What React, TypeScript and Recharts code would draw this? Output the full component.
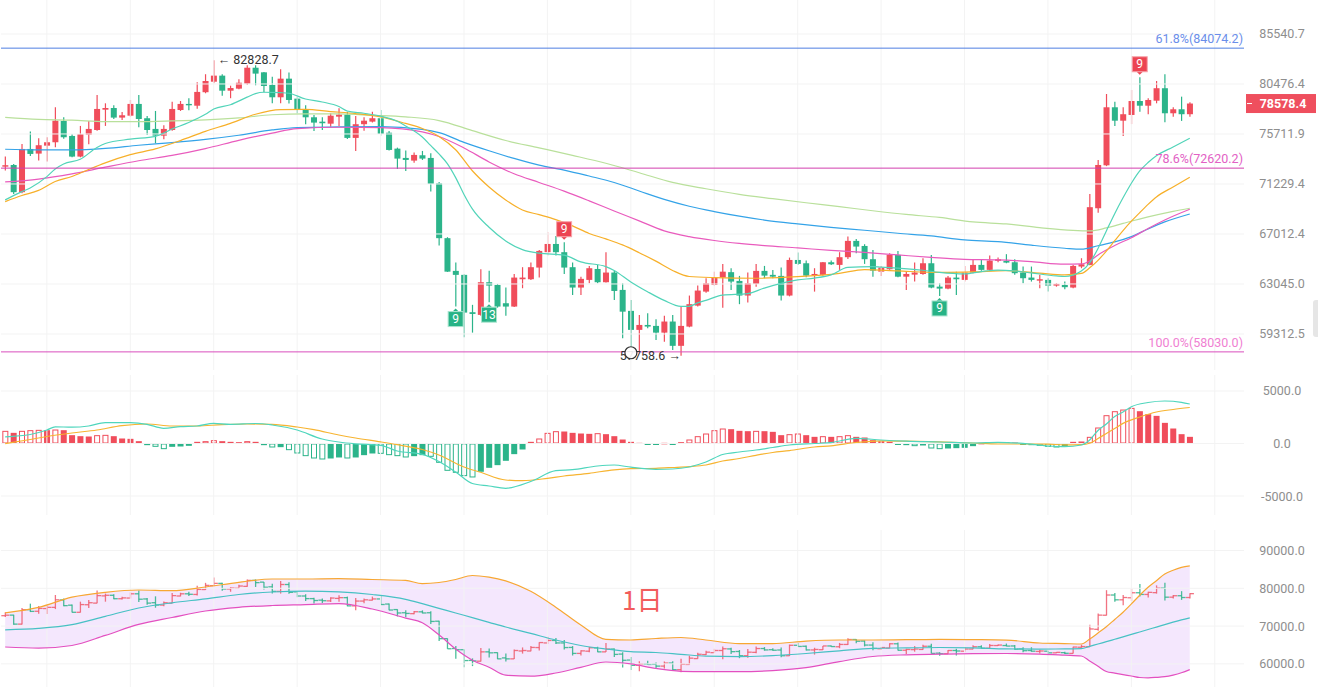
import { ComposedChart, Bar, Line, Area, XAxis, YAxis, ReferenceLine, ReferenceDot } from "recharts";

// daily candles
const opens = [
  72750, 72900, 70520, 74340, 73920, 74640, 74950, 76920, 75530, 73650,
  75650, 76080, 77990, 78150, 77240, 77420, 78540, 77180, 76180, 75560,
  76080, 77960, 78540, 78370, 79670, 80700, 81300, 79820, 80020, 80510,
  82090, 81630, 80380, 79180, 81000, 79050, 77960, 77270, 76860, 76670,
  77330, 77520, 75350, 76620, 76860, 77180, 75830, 74370, 73530, 73290,
  73770, 73530, 71290, 66670, 64060, 63750, 60910, 60710, 63180, 62970,
  61580, 61330, 63410, 63410, 64320, 65540, 66200, 65540, 64350, 62770,
  63360, 64210, 63180, 63930, 62590, 61010, 59610, 59970, 59900, 59410,
  60220, 58460, 59850, 61400, 62460, 62970, 63540, 63960, 63280, 62160,
  63050, 64060, 63750, 63670, 62160, 64920, 64660, 63690, 63750, 64740,
  64530, 65140, 66450, 66040, 64980, 64000, 64190, 65320, 63610, 63770,
  63820, 64660, 62840, 62690, 63540, 63360, 63930, 64530, 64140, 64850,
  64850, 64740, 63930, 63540, 63300, 63360, 62920, 62970, 62770, 64400,
  64530, 69150, 72870, 78220, 76950, 77490, 78820, 78370, 78850, 80060,
  77650, 78030, 77560,
];
const highs = [
  73650, 72990, 74800, 75930, 75320, 75410, 78220, 77270, 75690, 76460,
  76920, 79400, 78600, 78410, 77770, 78920, 79400, 77400, 77870, 76520,
  78760, 78820, 79090, 80640, 81440, 82828.7, 81440, 80310, 80940, 82340,
  82340, 81660, 81200, 81930, 81600, 79180, 78410, 77490, 77270, 77650,
  78130, 77800, 77400, 77270, 77800, 77960, 75990, 74460, 74190, 74010,
  74160, 73950, 71410, 66750, 64710, 63800, 61460, 64190, 64080, 63050,
  62770, 63820, 64350, 64710, 65720, 67160, 66850, 66340, 64710, 63610,
  64450, 64530, 65540, 64080, 63100, 61830, 60710, 60840, 60390, 60640,
  60710, 61330, 62160, 62920, 63490, 64000, 64610, 64270, 63670, 63930,
  64610, 64450, 64130, 64320, 65110, 65510, 64870, 64270, 64760, 64870,
  65540, 66800, 66610, 66180, 65720, 64450, 65460, 65640, 64000, 64710,
  65060, 65320, 63100, 63670, 64000, 64450, 64920, 64920, 65270, 65110,
  65380, 64980, 64400, 64400, 63750, 63490, 63100, 63230, 64530, 65060,
  70370, 73350, 79500, 78760, 78220, 79890, 81140, 79090, 80770, 81440,
  78220, 79240, 78690,
];
const lows = [
  72400, 70370, 70430, 73710, 73290, 73200, 74500, 75280, 73590, 73590,
  74770, 76020, 76460, 77110, 77020, 77330, 76340, 75620, 74860, 75230,
  76020, 77870, 77930, 78090, 79570, 80550, 79340, 79090, 79960, 80410,
  80350, 79670, 78600, 78600, 78570, 77650, 76620, 75990, 76080, 76390,
  76460, 75250, 74160, 76020, 76770, 75560, 74190, 72550, 72370, 73110,
  73350, 70570, 66070, 63980, 61330, 59080, 59410, 60640, 61660, 61250,
  60640, 61300, 62720, 63360, 63540, 65270, 65270, 63820, 62210, 62210,
  63100, 63100, 63150, 61830, 59010, 58410, 58050, 59730, 58880, 58760,
  58170, 57758.6, 59800, 61330, 62380, 62920, 61250, 62590, 61510, 61630,
  62840, 63490, 63490, 61780, 62100, 64530, 63570, 62460, 63690, 64530,
  64140, 65000, 65460, 64610, 63610, 63670, 64140, 63570, 62590, 63230,
  63750, 62720, 62130, 62640, 62210, 63230, 63880, 64080, 64080, 64740,
  64660, 63750, 63100, 63230, 62720, 62460, 62840, 62640, 62720, 64270,
  64500, 68780, 72800, 76460, 75530, 76620, 77800, 77560, 78600, 76800,
  77330, 76930, 77330,
];
const closes = [
  72880, 70520, 74340, 73890, 74680, 74950, 76950, 75410, 73650, 75690,
  76180, 78060, 78150, 77240, 77460, 78540, 77110, 76080, 75560, 76180,
  78060, 78540, 78410, 79700, 80770, 81300, 79820, 80080, 80600, 82090,
  81500, 80280, 79180, 81000, 78920, 77960, 77270, 76770, 76710, 77420,
  77520, 75350, 76620, 76950, 77180, 75710, 74250, 73470, 73350, 73800,
  73470, 71230, 66670, 64000, 63750, 60880, 60780, 63180, 62920, 61330,
  61330, 63540, 63540, 64350, 65640, 66200, 65540, 64320, 62770, 63440,
  64270, 63180, 63930, 62510, 60950, 59610, 59970, 59850, 59410, 60220,
  58460, 59900, 61510, 62540, 63100, 63540, 64000, 63230, 62160, 63100,
  64060, 63690, 63610, 62160, 64920, 64610, 63690, 63820, 64740, 64580,
  65140, 66450, 65990, 64980, 64080, 64320, 65320, 63610, 63820, 63930,
  64660, 62770, 62690, 63540, 63410, 63930, 64530, 64140, 64870, 64980,
  64710, 63880, 63490, 63360, 63410, 62920, 63050, 62800, 64450, 64580,
  69240, 72900, 78220, 76950, 77560, 78820, 78370, 78920, 80060, 77650,
  78030, 77560, 78578.4,
];

// moving averages, [candle index, value] read where the line could be traced
const maFast = [
  [0, 69855], [2, 70566], [3, 70886], [5, 71870], [6, 72548], [7, 72993], [9, 73412], [11, 74477],
  [12, 74842], [15, 75235], [18, 75498], [20, 76168], [22, 76775], [24, 77547], [25, 78054], [27, 78460],
  [29, 79191], [30, 79540], [31, 79666], [33, 79627], [34, 79569], [36, 79017], [38, 78729], [40, 78300],
  [41, 77868], [43, 77651], [45, 77377], [47, 76897], [48, 76458], [50, 75438], [51, 74660], [52, 73889],
  [53, 73019], [54, 71786], [55, 70326], [56, 69092], [58, 67567], [60, 66446], [62, 65744], [64, 65458],
  [67, 65306], [69, 64765], [72, 64395], [73, 64096], [75, 63204], [77, 62452], [79, 61793], [81, 61343],
  [82, 61350], [83, 61603], [84, 61800], [86, 62195], [89, 62308], [91, 62727], [95, 63357], [97, 63497],
  [99, 63746], [101, 64332], [104, 64395], [105, 64348], [107, 64269], [110, 64111], [112, 63940],
  [115, 63824], [117, 64010], [119, 64127], [121, 64057], [123, 63902], [126, 63668], [127, 63622],
  [129, 64049], [130, 64690], [131, 65840], [132, 67262], [133, 68694], [134, 70036], [135, 71291],
  [136, 72371], [137, 73121], [138, 73727], [140, 74522], [142, 75318],
];
const maMid = [
  [0, 69711], [2, 70232], [4, 70678], [6, 71441], [8, 71887], [10, 72503], [12, 73091], [15, 73823],
  [18, 74350], [21, 75106], [24, 75955], [27, 76700], [30, 77557], [33, 77992], [36, 78020], [39, 77812],
  [42, 77622], [45, 77311], [48, 76691], [50, 76224], [52, 75484], [54, 74267], [56, 72389], [58, 70972],
  [60, 69855], [62, 69007], [64, 68610], [66, 68195], [68, 67674], [70, 67055], [72, 66609], [74, 66123],
  [76, 65497], [78, 64829], [80, 64096], [82, 63622], [85, 63536], [90, 63489], [95, 63606], [100, 63871],
  [103, 64166], [107, 64057], [112, 63940], [116, 63979], [120, 64081], [124, 63886], [127, 63746],
  [129, 63863], [130, 64301], [131, 64892], [132, 65632], [133, 66462], [134, 67294], [135, 68070],
  [136, 68786], [137, 69482], [138, 70113], [140, 70972], [142, 71819],
];
const maSlow = [
  [0, 71405], [4, 71659], [8, 72115], [12, 72708], [16, 73278], [20, 73754], [24, 74376], [28, 75124],
  [32, 75795], [35, 76214], [40, 76336], [45, 76308], [50, 75900], [52, 75475], [55, 74431], [58, 73171],
  [61, 72123], [64, 71362], [67, 70608], [70, 69779], [73, 68923], [76, 68095], [79, 67270], [82, 66797],
  [85, 66479], [88, 66244], [91, 66067], [95, 65881], [99, 65680], [103, 65521], [107, 65322], [111, 65124],
  [115, 64963], [119, 64923], [123, 64789], [127, 64584], [129, 64608], [130, 64845], [131, 65322],
  [133, 66075], [135, 66707], [137, 67467], [139, 68170], [142, 69066],
];
const maLong = [
  [0, 74313], [4, 74249], [8, 74249], [12, 74386], [16, 74678], [20, 74924], [24, 75216], [28, 75595],
  [32, 76084], [35, 76308], [40, 76365], [45, 76392], [50, 76130], [52, 75835], [55, 74943], [58, 74177],
  [61, 73484], [64, 72886], [67, 72450], [70, 71923], [73, 71362], [76, 70626], [79, 69898], [82, 69320],
  [85, 68873], [88, 68488], [91, 68162], [95, 67839], [99, 67559], [103, 67320], [107, 67070], [111, 66854],
  [115, 66527], [119, 66390], [123, 66100], [127, 65857], [129, 65777], [131, 66059], [133, 66365],
  [135, 66797], [137, 67426], [139, 68005], [142, 68669],
];
const maYear = [
  [0, 77254], [4, 77065], [8, 76999], [12, 76859], [16, 76859], [20, 76925], [24, 77027], [28, 77207],
  [32, 77509], [36, 77585], [40, 77585], [44, 77462], [48, 77311], [52, 76962], [56, 76028], [60, 75115],
  [64, 74440], [68, 73763], [72, 73055], [76, 72213], [80, 71362], [84, 70816], [88, 70335], [92, 69966],
  [96, 69618], [100, 69287], [104, 68940], [108, 68628], [112, 68379], [116, 68005], [120, 67839],
  [124, 67534], [128, 67304], [130, 67262], [132, 67508], [134, 67880], [137, 68420], [140, 68882],
  [142, 69151],
];

// MACD
const macdHist = [
  1205, 1014, 1205, 1268, 1300, 1268, 1331, 1268, 793, 697,
  666, 793, 824, 697, 476, 444, 222, -159, -317, -539,
  -317, -285, -222, 159, 222, 317, 222, 159, 127, 222,
  159, -159, -380, -349, -634, -951, -1205, -1427, -1522, -1427,
  -1331, -1427, -1331, -1110, -951, -983, -1110, -1205, -1331, -1205,
  -1110, -1268, -1839, -2599, -2790, -3107, -3233, -2695, -2314, -2061,
  -1648, -1014, -571, 159, 476, 1014, 1173, 1141, 1014, 951,
  919, 983, 888, 697, 380, 159, 63, -63, -95, 63,
  -95, 127, 380, 697, 951, 1268, 1427, 1363, 1205, 1173,
  1205, 1173, 1110, 793, 888, 951, 793, 634, 697, 634,
  697, 793, 634, 571, 317, 222, 159, -95, -159, -254,
  -190, -476, -539, -476, -444, -412, -254, 63, 95, 127,
  127, 95, -63, -159, -222, -317, -380, -317, 159, 190,
  634, 1522, 2695, 3075, 3233, 3392, 3075, 2790, 2631, 1965,
  1427, 888, 634,
];
const macdDif = [
  [0, 638], [3, 857], [5, 1285], [6, 1590], [8, 1552], [10, 1666], [12, 1980], [15, 1980], [17, 1828],
  [19, 1447], [21, 1599], [23, 1666], [25, 1923], [27, 1828], [30, 1904], [32, 1761], [35, 1285], [38, 428],
  [40, 143], [42, -29], [45, -171], [47, -714], [50, -1028], [52, -1714], [54, -2713], [56, -3808],
  [58, -4046], [60, -4265], [63, -3618], [66, -2589], [68, -2485], [71, -2142], [73, -2047], [75, -2256],
  [78, -2456], [80, -2428], [82, -2237], [84, -1761], [86, -1047], [88, -809], [90, -619], [92, -381],
  [94, -143], [97, 0], [99, 86], [102, 495], [105, 333], [108, 219], [112, 143], [116, 48], [119, 114],
  [122, 10], [125, -238], [127, -305], [129, -143], [130, 333], [131, 1238], [132, 1856], [133, 2561],
  [134, 2999], [135, 3503], [137, 3903], [139, 4046], [141, 3922], [142, 3760],
];
const macdDea = [
  [0, -19], [3, 381], [5, 666], [8, 1000], [11, 1285], [14, 1704], [17, 1856], [20, 1666], [23, 1666],
  [26, 1799], [29, 1856], [32, 1828], [35, 1571], [37, 1314], [40, 809], [42, 524], [45, 152], [47, -114],
  [50, -571], [52, -1095], [55, -2237], [57, -2742], [60, -3475], [62, -3541], [65, -3313], [67, -3094],
  [70, -2837], [73, -2504], [75, -2399], [78, -2361], [80, -2285], [82, -2199], [84, -2047], [86, -1666],
  [88, -1428], [90, -1123], [92, -857], [94, -676], [97, -333], [99, -219], [102, 95], [105, 257],
  [108, 228], [112, 152], [116, 48], [119, -48], [122, -48], [125, -67], [127, -124], [129, -105],
  [130, 19], [131, 476], [132, 952], [133, 1428], [134, 1913], [136, 2523], [138, 2999], [140, 3237],
  [142, 3427],
];

// Bollinger bands
const bollIdx = [
  0, 4, 8, 12, 16, 20, 24, 28, 32, 36, 40, 44, 48, 50, 52, 54, 56, 58, 60, 63, 66, 69, 72, 75, 78, 81,
  84, 88, 92, 96, 100, 104, 108, 112, 116, 120, 124, 127, 129, 130, 131, 132, 133, 134, 135, 136, 137,
  138, 139, 140, 141, 142,
];
const bollUp = [
  73488, 74944, 77643, 78940, 79548, 79363, 80342, 81586, 82459, 82459, 82565, 82327, 82088, 81242,
  81533, 82327, 83385, 82935, 81956, 79204, 74997, 70287, 66477, 66318, 66715, 66980, 66318, 65366,
  65366, 66027, 66318, 66318, 66397, 66503, 66424, 66292, 65524, 65366, 65259, 66556, 68170, 69838,
  71743, 73674, 75870, 78172, 80263, 82009, 83782, 84787, 85528, 85925,
];
const bollMid = [
  69017, 69388, 70367, 72590, 74785, 76161, 77193, 78358, 79019, 79231, 79045, 78358, 77087, 75923,
  74706, 73462, 72245, 71001, 69758, 68064, 66318, 64863, 63937, 63222, 63011, 62535, 62058, 61926,
  62191, 62747, 63461, 64122, 64228, 64334, 64254, 63963, 63910, 63963, 64016, 64625, 65260, 65869,
  66504, 67139, 67800, 68435, 69097, 69732, 70393, 71028, 71637, 72192,
];
const bollLo = [
  64466, 64175, 64863, 67535, 70446, 72271, 73991, 74970, 75447, 75685, 75950, 74521, 72113, 70896,
  67694, 63910, 60973, 59122, 57005, 56740, 57587, 59069, 60497, 59995, 58777, 58037, 57931, 57931,
  58222, 58989, 60603, 61953, 62403, 62561, 62694, 62747, 62588, 62297, 62085, 60762, 59360, 57984,
  57560, 57163, 56793, 56396, 56317, 56423, 56608, 57031, 57640, 58486,
];

// axis ticks and drawn levels
const priceTicks = [59312.5, 63045.0, 67012.4, 71229.4, 75711.9, 80476.4, 85540.7];
const macdTicks = [-5000, 0, 5000];
const bollTicks = [60000, 70000, 80000, 90000];
const fibPcts = ["61.8%", "78.6%", "100.0%"];
const fibValues = [84074.2, 72620.2, 58030.0];
const tdBuy = [[54, "9"], [58, "13"], [112, "9"]] as [number, string][];
const tdSell = [[67, "9"], [136, "9"]] as [number, string][];
const gridCols = [5, 15, 25, 35, 45, 55, 65, 75, 85, 95, 105, 115, 125, 135, 145];

const SLOTS = 149;
const UP = "#f04d5b";
const DOWN = "#2bb48a";
const FIB_LINE = ["#4f7fe2", "#d23fae", "#d94fbd"];
const FIB_TEXT = ["#6a8eea", "#e261c4", "#f07fd2"];
const GRID = "#f3f3f3";
const W = 1318;
const AXIS_W = 74;
const MARGIN = { top: 0, right: 0, bottom: 0, left: 1 };

const lastClose = closes[closes.length - 1];
const fmt = (v: number) => v.toFixed(1);
const hiIdx = highs.indexOf(Math.max(...highs));
const loIdx = lows.indexOf(Math.min(...lows));

const rows: any[] = Array.from({ length: SLOTS }, (_, i) => ({ i }));
closes.forEach((c, i) => {
  const prev = i > 0 ? macdHist[i - 1] : 0;
  const v = macdHist[i];
  Object.assign(rows[i], {
    o: opens[i], h: highs[i], l: lows[i], c,
    hist: v,
    hollow: v >= 0 ? v > prev : v < prev,
  });
});
const place = (key: string, pairs: number[][]) => pairs.forEach(([i, v]) => (rows[i][key] = v));
place("maFast", maFast);
place("maMid", maMid);
place("maSlow", maSlow);
place("maLong", maLong);
place("maYear", maYear);
place("dif", macdDif);
place("dea", macdDea);
bollIdx.forEach((i, k) => {
  rows[i].up = bollUp[k];
  rows[i].mid = bollMid[k];
  rows[i].lo = bollLo[k];
  rows[i].band = [bollLo[k], bollUp[k]];
});

const range = (d: any) => (d.c == null ? null : [d.l, d.h]);

const Candle = (p: any) => {
  const { x, y, width, height, payload, log } = p;
  if (!payload || payload.c == null) return null;
  const top = Math.min(y, y + height);
  const bot = Math.max(y, y + height);
  const { o, h, l, c } = payload;
  const f = log ? Math.log : (v: number) => v;
  const at = (v: number) => top + ((bot - top) * (f(h) - f(v))) / (f(h) - f(l) || 1);
  const cx = x + width / 2;
  const color = c >= o ? UP : DOWN;
  const bTop = at(Math.max(o, c));
  const bBot = at(Math.min(o, c));
  return (
    <g>
      <line x1={cx} x2={cx} y1={top} y2={bot} stroke={color} strokeWidth={1.2} />
      <rect x={cx - 3} y={bTop} width={6} height={Math.max(bBot - bTop, 1)} fill={color} />
    </g>
  );
};

const OhlcBar = (p: any) => {
  const { x, y, width, height, payload } = p;
  if (!payload || payload.c == null) return null;
  const top = Math.min(y, y + height);
  const bot = Math.max(y, y + height);
  const { o, h, l, c } = payload;
  const at = (v: number) => top + ((bot - top) * (h - v)) / (h - l || 1);
  const cx = x + width / 2;
  const color = c >= o ? "#ef5a6c" : "#2db38a";
  return (
    <g stroke={color} strokeWidth={1.3} strokeOpacity={0.85}>
      <line x1={cx} x2={cx} y1={top} y2={bot} />
      <line x1={cx - 4} x2={cx} y1={at(o)} y2={at(o)} />
      <line x1={cx} x2={cx + 4} y1={at(c)} y2={at(c)} />
    </g>
  );
};

const HistBar = (p: any) => {
  const { x, y, width, height, payload } = p;
  if (!payload || payload.hist == null) return null;
  const top = Math.min(y, y + height);
  const h = Math.max(Math.abs(height), 1);
  const cx = x + width / 2;
  const color = payload.hist >= 0 ? UP : DOWN;
  if (payload.hollow) {
    return <rect x={cx - 2.5} y={top + 0.5} width={5} height={Math.max(h - 1, 0.5)} fill="#fff" stroke={color} strokeWidth={1} />;
  }
  return <rect x={cx - 3} y={top} width={6} height={h} fill={color} />;
};

const AxisTick = (p: any) => {
  const { x, y, payload } = p;
  const v = payload.value as number;
  if (v === lastClose) {
    return (
      <g>
        <rect x={x + 2} y={y - 9.5} width={70} height={19} fill="#ef4f5e" />
        <line x1={x + 3} x2={x + 8} y1={y} y2={y} stroke="#fff" />
        <text x={x + 39} y={y} dy={4.5} textAnchor="middle" fill="#fff" fontSize={12.5} fontWeight="bold">
          {fmt(v)}
        </text>
      </g>
    );
  }
  return (
    <text x={x + 38} y={y} dy={4.5} textAnchor="middle" fill="#8e8e8e" fontSize={12.5}>
      {fmt(v)}
    </text>
  );
};

const FibLabel = (p: any) => {
  const { viewBox, text, color } = p;
  if (!viewBox) return null;
  return (
    <text x={viewBox.x + viewBox.width - 1} y={viewBox.y - 5} textAnchor="end" fill={color} fontSize={12.5}>
      {text}
    </text>
  );
};

const TdMark = (p: any) => {
  const { cx, cy, label, sell } = p;
  const w = 15;
  const h = 15;
  const top = sell ? cy - 5.5 - h : cy + 5;
  const fill = sell ? "#ec4452" : "#27b386";
  const tip = sell
    ? `${cx - 3},${top + h} ${cx + 3},${top + h} ${cx},${top + h + 3}`
    : `${cx - 3},${top} ${cx + 3},${top} ${cx},${top - 3}`;
  return (
    <g>
      <polygon points={tip} fill={fill} />
      <rect x={cx - w / 2} y={top} width={w} height={h} fill={fill} stroke={sell ? "#f6a3aa" : "#a9e4cf"} strokeWidth={1} />
      <text x={cx} y={top + h / 2} dy={4} textAnchor="middle" fill="#fff" fontSize={12}>
        {label}
      </text>
    </g>
  );
};

const xAxis = <XAxis dataKey="i" hide />;
const vGrid = gridCols.map((i) => <ReferenceLine key={`v${i}`} x={i} stroke={GRID} />);

const App = () => {
  return (
    <div
      style={{
        position: "relative",
        width: W,
        height: 687,
        overflow: "hidden",
        background: "#fff",
        fontFamily: "Roboto, 'Noto Sans', sans-serif",
      }}
    >
      <style>{"body{margin:0}"}</style>

      {/* price panel, log scale */}
      <div style={{ position: "absolute", left: 0, top: 0 }}>
        <ComposedChart width={W} height={370} data={rows} margin={MARGIN}>
          {xAxis}
          <YAxis
            orientation="right"
            width={AXIS_W}
            scale="log"
            domain={[56761, 89163]}
            allowDataOverflow
            ticks={[...priceTicks, lastClose]}
            interval={0}
            axisLine={false}
            tickLine={false}
            tickSize={0}
            tickMargin={0}
            tick={(p: any) => <AxisTick {...p} />}
          />
          {vGrid}
          {priceTicks.map((v) => (
            <ReferenceLine key={`h${v}`} y={v} stroke={GRID} />
          ))}
          <Bar dataKey={range} shape={(p: any) => <Candle {...p} log />} isAnimationActive={false} />
          <Line dataKey="maYear" stroke="#b9e09b" strokeWidth={1.2} dot={false} connectNulls type="monotone" isAnimationActive={false} />
          <Line dataKey="maLong" stroke="#34a3e8" strokeWidth={1.2} dot={false} connectNulls type="monotone" isAnimationActive={false} />
          <Line dataKey="maSlow" stroke="#e95bbd" strokeWidth={1.2} dot={false} connectNulls type="monotone" isAnimationActive={false} />
          <Line dataKey="maMid" stroke="#f7b02a" strokeWidth={1.2} dot={false} connectNulls type="monotone" isAnimationActive={false} />
          <Line dataKey="maFast" stroke="#52d4b9" strokeWidth={1.2} dot={false} connectNulls type="monotone" isAnimationActive={false} />
          {fibValues.map((v, k) => (
            <ReferenceLine
              key={`f${v}`}
              y={v}
              stroke={FIB_LINE[k]}
              strokeWidth={1}
              label={<FibLabel text={`${fibPcts[k]}(${fmt(v)})`} color={FIB_TEXT[k]} />}
            />
          ))}
          <ReferenceDot
            x={hiIdx}
            y={highs[hiIdx]}
            r={0}
            shape={(p: any) => (
              <text x={p.cx + 4} y={p.cy + 4} fontSize={12.5} fill="#333">
                {`← ${fmt(highs[hiIdx])}`}
              </text>
            )}
          />
          <ReferenceDot
            x={loIdx}
            y={lows[loIdx]}
            r={0}
            shape={(p: any) => (
              <g>
                <text x={p.cx} y={p.cy + 4} textAnchor="end" fontSize={12.5} fill="#333">
                  {`${fmt(lows[loIdx])} →`}
                </text>
                <circle cx={p.cx - 50} cy={p.cy - 3} r={6} fill="#fff" fillOpacity={0.9} stroke="#333" strokeWidth={1.2} />
              </g>
            )}
          />
          {tdBuy.map(([i, n]) => (
            <ReferenceDot key={`b${i}`} x={i} y={lows[i]} r={0} shape={(p: any) => <TdMark {...p} label={n} />} />
          ))}
          {tdSell.map(([i, n]) => (
            <ReferenceDot key={`s${i}`} x={i} y={highs[i]} r={0} shape={(p: any) => <TdMark {...p} label={n} sell />} />
          ))}
        </ComposedChart>
      </div>

      {/* MACD panel */}
      <div style={{ position: "absolute", left: 0, top: 375 }}>
        <ComposedChart width={W} height={140} data={rows} margin={MARGIN}>
          {xAxis}
          <YAxis
            orientation="right"
            width={AXIS_W}
            domain={[-6807, 6521]}
            allowDataOverflow
            ticks={macdTicks}
            interval={0}
            axisLine={false}
            tickLine={false}
            tickSize={0}
            tickMargin={0}
            tick={(p: any) => <AxisTick {...p} />}
          />
          {vGrid}
          {macdTicks.map((v) => (
            <ReferenceLine key={`m${v}`} y={v} stroke={GRID} />
          ))}
          <Bar dataKey="hist" shape={(p: any) => <HistBar {...p} />} isAnimationActive={false} />
          <Line dataKey="dea" stroke="#f7b431" strokeWidth={1.2} dot={false} connectNulls type="monotone" isAnimationActive={false} />
          <Line dataKey="dif" stroke="#4fd6bd" strokeWidth={1.2} dot={false} connectNulls type="monotone" isAnimationActive={false} />
        </ComposedChart>
      </div>

      {/* Bollinger panel */}
      <div style={{ position: "absolute", left: 0, top: 530 }}>
        <ComposedChart width={W} height={157} data={rows} margin={MARGIN}>
          {xAxis}
          <YAxis
            orientation="right"
            width={AXIS_W}
            domain={[53882, 95424]}
            allowDataOverflow
            ticks={bollTicks}
            interval={0}
            axisLine={false}
            tickLine={false}
            tickSize={0}
            tickMargin={0}
            tick={(p: any) => <AxisTick {...p} />}
          />
          {vGrid}
          {bollTicks.map((v) => (
            <ReferenceLine key={`b${v}`} y={v} stroke={GRID} />
          ))}
          <Area dataKey="band" fill="#f3e4fd" fillOpacity={0.9} stroke="none" connectNulls type="monotone" isAnimationActive={false} />
          <Bar dataKey={range} shape={(p: any) => <OhlcBar {...p} />} isAnimationActive={false} />
          <Line dataKey="up" stroke="#f7a733" strokeWidth={1.2} dot={false} connectNulls type="monotone" isAnimationActive={false} />
          <Line dataKey="mid" stroke="#47c1c4" strokeWidth={1.2} dot={false} connectNulls type="monotone" isAnimationActive={false} />
          <Line dataKey="lo" stroke="#e350c0" strokeWidth={1.2} dot={false} connectNulls type="monotone" isAnimationActive={false} />
        </ComposedChart>
      </div>

      <svg width={W} height={687} style={{ position: "absolute", left: 0, top: 0, pointerEvents: "none" }}>
        <text x={622} y={610} fontSize={26} fill="#f25c5c" fontFamily="'Noto Sans CJK SC', sans-serif">
          1日
        </text>
        <rect x={1313} y={300} width={8} height={37} rx={3} fill="#e6e6e6" />
      </svg>
    </div>
  );
};

export default App;
